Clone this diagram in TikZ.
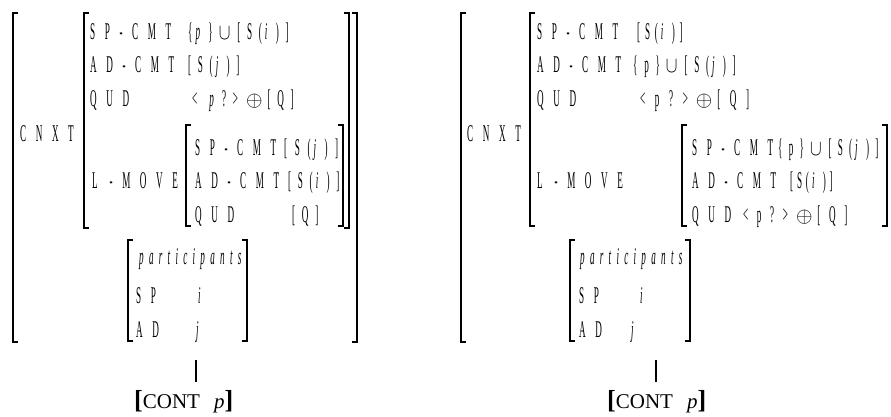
\documentclass[tikz,border=0pt]{standalone}
\usepackage{fontspec}
\usepackage{graphicx}
\setmainfont{Liberation Serif}
\newfontfamily\cf[FakeStretch=0.38,LetterSpace=40,ItalicFeatures={LetterSpace=22}]{Liberation Serif}
\newcommand{\ls}[1]{\addfontfeature{LetterSpace=#1}}
\newcommand{\cupS}{\hspace{6pt}\scalebox{0.7}[0.9]{$\cup$}\hspace{7pt}}
\newcommand{\opl}{\hspace{8pt}\scalebox{0.85}{$\oplus$}\hspace{5pt}}
\newcommand{\iv}[1]{\hspace{3pt}\textit{#1}\hspace{3pt}}
\newcommand{\BrL}[3]{\draw[brk] ({#1+5},#2) -- (#1,#2) -- (#1,#3) -- ({#1+5},#3);}
\newcommand{\BrR}[3]{\draw[brk] ({#1-5},#2) -- (#1,#2) -- (#1,#3) -- ({#1-5},#3);}
\begin{document}
\begin{tikzpicture}[x=1pt,y=-1pt,
  tx/.style={anchor=base west,inner sep=0pt,font=\cf\fontsize{24}{24}\selectfont},
  contx/.style={anchor=base west,inner sep=0pt,font=\fontsize{21}{21}\selectfont},
  brk/.style={line width=1.1pt},
  stem/.style={line width=1.1pt}
]
\useasboundingbox (0,0) rectangle (891,416);
% ---------------- left figure ----------------
\BrL{13}{13}{342}
\BrR{357}{13}{342}
\BrL{84}{13}{228}
\BrR{349}{13}{228}
\BrL{186}{125}{226}
\BrR{343}{125}{226}
\BrL{128}{240}{341}
\BrR{247}{240}{341}
\node[tx] (l-cnxt) at (20,141) {CNXT};
\node[tx] (l-sp) at (90,39) {SP-CMT};
\node[tx] (l-spv) at (188,39) {\ls{28}\{\iv{p}\}\cupS[S(\iv{i})]};
\node[tx] (l-ad) at (90,72) {AD-CMT};
\node[tx] (l-adv) at (188,72) {\ls{28}[S(\iv{j})]};
\node[tx] (l-qud) at (90,106) {QUD};
\node[tx] (l-qudv) at (192,106) {\ls{28}<\hspace{9pt}\iv{p}?>\opl[Q]};
\node[tx] (l-lm) at (92,188) {L -MOVE};
\node[tx] (l-isp) at (195,155) {SP-CMT};
\node[tx] (l-ispv) at (284,155) {\ls{32}[S(\iv{j})]};
\node[tx] (l-iad) at (195,188) {AD-CMT};
\node[tx] (l-iadv) at (288,188) {\ls{28}[S(\iv{i})]};
\node[tx] (l-iqud) at (195,222) {QUD};
\node[tx] (l-iqudv) at (292,222) {\ls{28}[Q]};
\node[tx] (l-part) at (139,264) {\textit{participants}};
\node[tx] (l-psp) at (136,303) {SP};
\node[tx] (l-pi) at (198,303) {\textit{i}};
\node[tx] (l-pad) at (136,337) {AD};
\node[tx] (l-pj) at (196,337) {\textit{j}};
\coordinate (l-top) at (196,360);
\node[contx] (l-cont) at (134,408) {\textbf{\fontsize{26}{26}\selectfont[}CONT\hspace{14pt}\textit{p}\textbf{\fontsize{26}{26}\selectfont]}};
\draw[stem,shorten >=8pt] (l-top) -- (l-top |- l-cont.north);
% ---------------- right figure ----------------
\BrL{461}{13}{342}
\BrL{530}{13}{226}
\BrL{682}{125}{226}
\BrR{887}{125}{226}
\BrL{570}{240}{341}
\BrR{690}{240}{341}
\node[tx] (r-cnxt) at (467,141) {CNXT};
\node[tx] (r-sp) at (537,39) {SP-CMT};
\node[tx] (r-spv) at (637,39) {\ls{20}[S(\iv{i})]};
\node[tx] (r-ad) at (537,72) {AD-CMT};
\node[tx] (r-adv) at (633,72) {\ls{28}\{p\}\cupS[S(\iv{j})]};
\node[tx] (r-qud) at (537,106) {QUD};
\node[tx] (r-qudv) at (640,106) {<p?>\opl[Q]};
\node[tx] (r-lm) at (537,188) {L -MOVE};
\node[tx] (r-isp) at (692,155) {SP-CMT};
\node[tx] (r-ispv) at (778,155) {\ls{26}\{p\}\cupS[S(\iv{j})]};
\node[tx] (r-iad) at (692,188) {AD-CMT};
\node[tx] (r-iadv) at (790,188) {\ls{16}[S(\iv{i})]};
\node[tx] (r-iqud) at (692,222) {QUD};
\node[tx] (r-iqudv) at (743,222) {\ls{36}<p?>\opl[Q]};
\node[tx] (r-part) at (580,264) {\textit{participants}};
\node[tx] (r-psp) at (579,303) {SP};
\node[tx] (r-pi) at (640,303) {\textit{i}};
\node[tx] (r-pad) at (579,337) {AD};
\node[tx] (r-pj) at (631,337) {\textit{j}};
\coordinate (r-top) at (656,360);
\node[contx] (r-cont) at (607,408) {\textbf{\fontsize{26}{26}\selectfont[}CONT\hspace{14pt}\textit{p}\textbf{\fontsize{26}{26}\selectfont]}};
\draw[stem,shorten >=8pt] (r-top) -- (r-top |- r-cont.north);
\end{tikzpicture}
\end{document}
